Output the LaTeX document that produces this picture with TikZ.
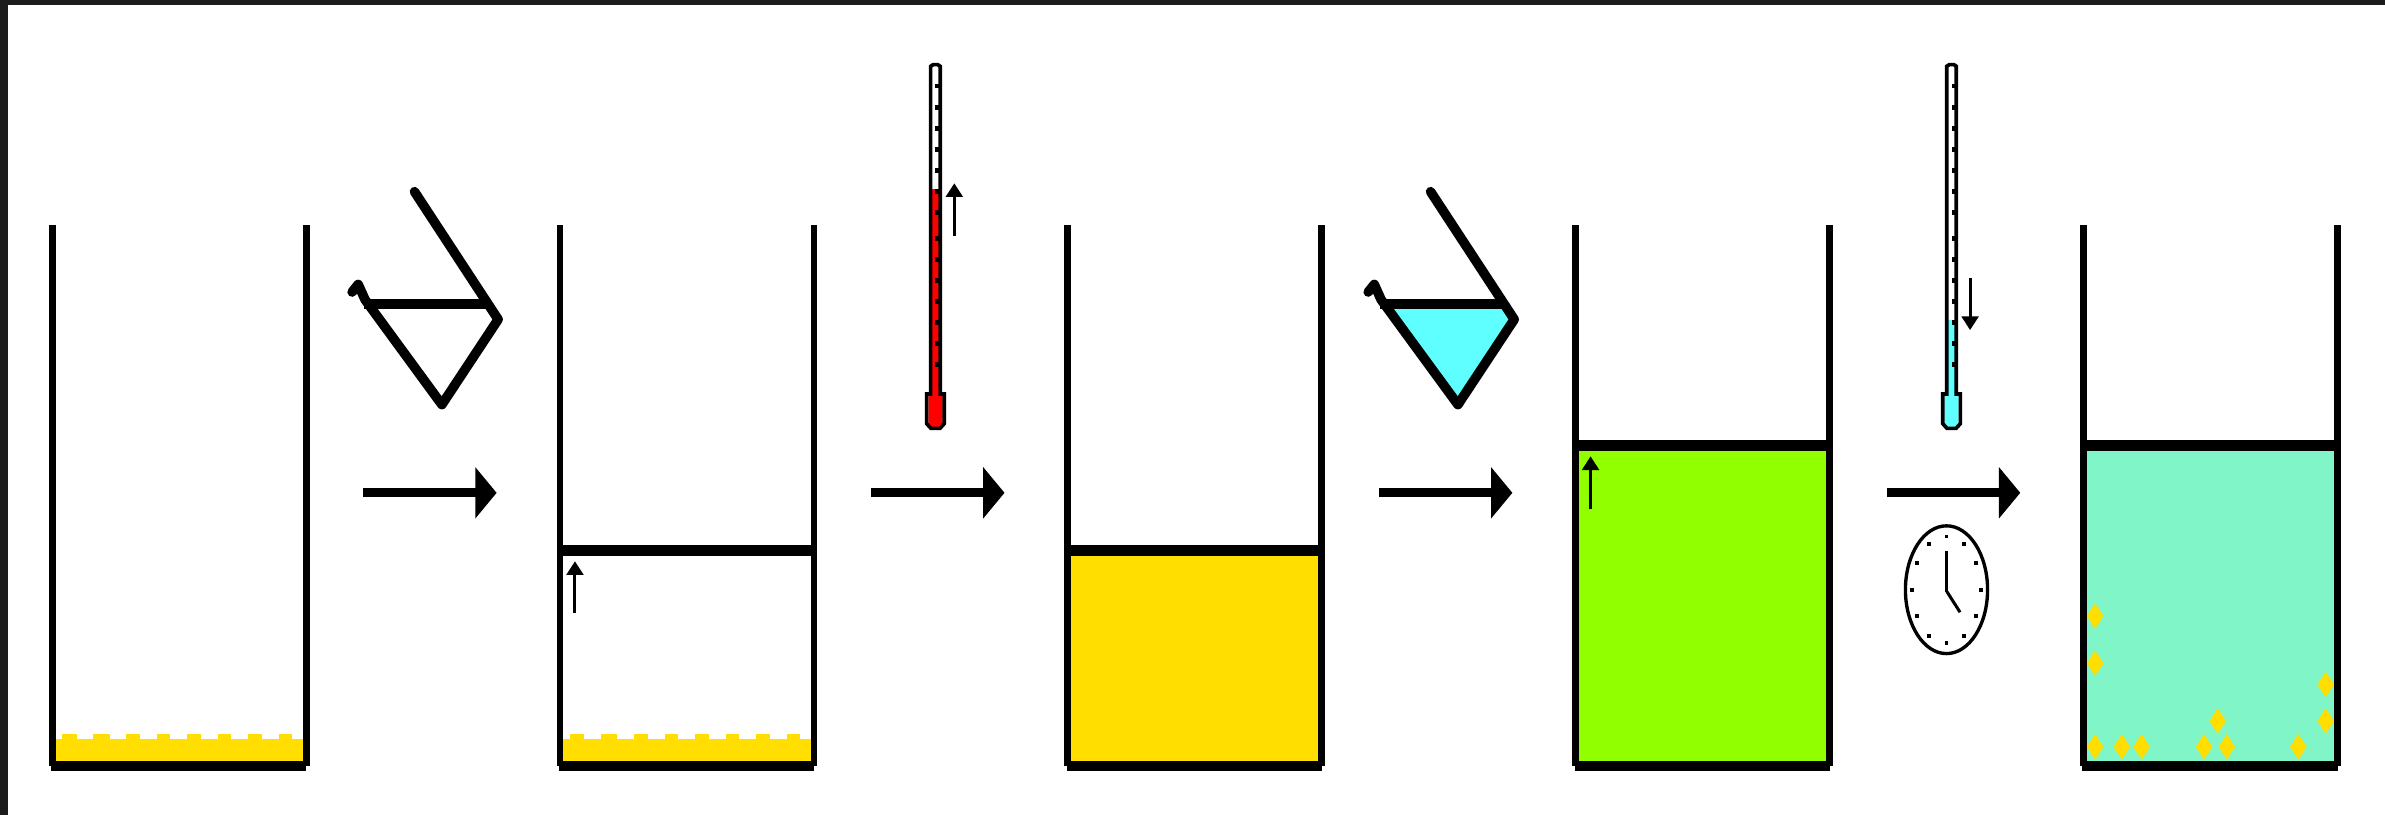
\documentclass[tikz,border=0pt]{standalone}
\usepackage{tikz,pgffor}
\usetikzlibrary{arrows.meta}
\usetikzlibrary{shapes.geometric}

\definecolor{gold}{RGB}{255,222,0}
\definecolor{hot}{RGB}{255,0,0}
\definecolor{cold}{RGB}{96,255,255}
\definecolor{lime}{RGB}{145,255,0}
\definecolor{mint}{RGB}{128,246,200}
\definecolor{frame}{RGB}{28,28,28}

\tikzstyle{bigarrow}  = [draw, line width=6pt, -{Triangle[length=14pt,width=33pt]}]
\tikzstyle{tinyarrow} = [draw, line width=2pt, -{Triangle[length=9pt,width=11pt]}]
\tikzstyle{funnelline} = [draw, line width=6.3pt, line join=round, line cap=round]
\tikzstyle{rimline}   = [draw, line width=6.4pt]
\tikzstyle{tube}      = [draw, line width=2.4pt]
\tikzstyle{hand}      = [draw, line width=2pt]
\tikzstyle{crystal}   = [diamond, fill=gold, inner sep=0pt,
                         minimum width=11pt, minimum height=17pt]

% beaker walls, #1 = left edge
\newcommand{\glass}[1]{%
  \fill (#1,148) rectangle ++(4.5,355.5);
  \fill (#1+167,148) rectangle ++(4.5,355.5);
  \fill (#1+1.5,500) rectangle ++(168,7);
}
% liquid up to #2 in colour #3
\newcommand{\surface}[3]{%
  \fill[#3] (#1+4.5,#2) rectangle (#1+167,500);
  \fill (#1+4.5,#2-7) rectangle (#1+167,#2);
}
% powder on the bottom
\newcommand{\sediment}[1]{%
  \fill[gold] (#1+4.5,486) rectangle (#1+167,500);
  \foreach \bx/\bw in {9/9.3,29/11,51/9.2,71.3/8.6,91/9.1,111.3/8.6,131/9.3,151.5/8.6}
    \fill[gold] (#1+\bx,482.6) rectangle ++(\bw,3.6);
}
% tilted flask, #1 = shift, #2 = content
\newcommand{\funnel}[2]{%
  \fill[#2] (#1+241,201) -- (#1+321,201) -- (#1+326,210) -- (#1+290.5,264) -- cycle;
  \draw[funnelline] (#1+272.5,126) -- (#1+327.5,210) -- (#1+290.5,266)
        -- (#1+240,197) -- (#1+235.5,187) -- (#1+231.5,192);
  \draw[rimline] (#1+239,199.8) -- (#1+321,199.8);
}
% thermometer, #1 = centre, #2 = top of column, #3 = colour
\newcommand{\thermometer}[3]{%
  \fill[#3] (#1-2.4,#2) rectangle (#1+2.4,260);
  \fill[#3] (#1-4.7,259) -- (#1+4.7,259) -- (#1+4.7,278) -- (#1+2.5,281)
        -- (#1-2.5,281) -- (#1-4.7,278) -- cycle;
  \foreach \ty in {56.5,70.6,84.4,98.2,112,126,139.8,156.7,170.5,184.3,198.1,211.9,225.7,239.5}
    \fill (#1,\ty-1.5) rectangle (#1+3,\ty+1.5);
  \draw[tube] (#1-3.15,259) -- (#1-3.15,43.6) -- (#1-1.5,42.5) -- (#1+1.5,42.5)
        -- (#1+3.15,43.6) -- (#1+3.15,259) -- (#1+5.8,259) -- (#1+5.8,278.5)
        -- (#1+3,281.6) -- (#1-3,281.6) -- (#1-5.8,278.5) -- (#1-5.8,259) -- cycle;
}

\begin{document}
\begin{tikzpicture}[x=1pt, y=-1pt]

\useasboundingbox (0,0) rectangle (1568,536);
\fill[white] (0,0) rectangle (1568,536);
\fill[frame] (0,0) rectangle (1568,3.4);
\fill[frame] (0,0) rectangle (5.3,536);

% the five beakers
\sediment{32}
\glass{32}

\surface{365.9}{365.5}{white}
\sediment{365.9}
\glass{365.9}

\surface{699.8}{365.5}{gold}
\glass{699.8}

\surface{1033.7}{296.5}{lime}
\glass{1033.7}

\surface{1367.6}{296.5}{mint}
\glass{1367.6}

% crystals
\foreach \cx/\cy [count=\i] in {1377.4/405,1377.4/436,1377.4/491,1395/491,1408/491,
    1449/491,1464/491,1458/474,1511/491,1529/450,1529/474}
  \node[crystal] (cr\i) at (\cx,\cy) {};

% flasks and thermometers
\funnel{0}{white}
\funnel{668}{cold}
\thermometer{615}{124.3}{hot}
\thermometer{1283}{210.4}{cold}

% clock
\coordinate (clk) at (1280,389);
\draw[line width=2.2pt] (1279.7,387.7) ellipse [x radius=27pt, y radius=42pt];
\foreach \a in {0,30,...,330}
  \fill ({1279.7+22.5*cos(\a)-1.3},{387.7+35*sin(\a)-1.3}) rectangle ++(2.6,2.6);
\coordinate (twelve) at (1280,362);
\coordinate (five) at (1288.6,402.5);
\draw[hand] (clk) -- (twelve);
\draw[hand] (clk) -- (five);

% process arrows
\coordinate (from1) at (238.7,324);   \coordinate (to1) at (326.5,324);
\coordinate (from2) at (572.6,324);   \coordinate (to2) at (660.4,324);
\coordinate (from3) at (906.5,324);   \coordinate (to3) at (994.3,324);
\coordinate (from4) at (1240.4,324);  \coordinate (to4) at (1328.2,324);
\draw[bigarrow] (from1) -- (to1);
\draw[bigarrow] (from2) -- (to2);
\draw[bigarrow] (from3) -- (to3);
\draw[bigarrow] (from4) -- (to4);

% level and temperature changes
\coordinate (rise1) at (378,403);      \coordinate (rise1t) at (378,369);
\coordinate (rise2) at (1045.7,334.5); \coordinate (rise2t) at (1045.7,300);
\coordinate (heat)  at (627.4,155);    \coordinate (heatt)  at (627.4,120.5);
\coordinate (cool)  at (1295.2,183);   \coordinate (coolt)  at (1295.2,217);
\draw[tinyarrow] (rise1) -- (rise1t);
\draw[tinyarrow] (rise2) -- (rise2t);
\draw[tinyarrow] (heat)  -- (heatt);
\draw[tinyarrow] (cool)  -- (coolt);

\end{tikzpicture}
\end{document}
